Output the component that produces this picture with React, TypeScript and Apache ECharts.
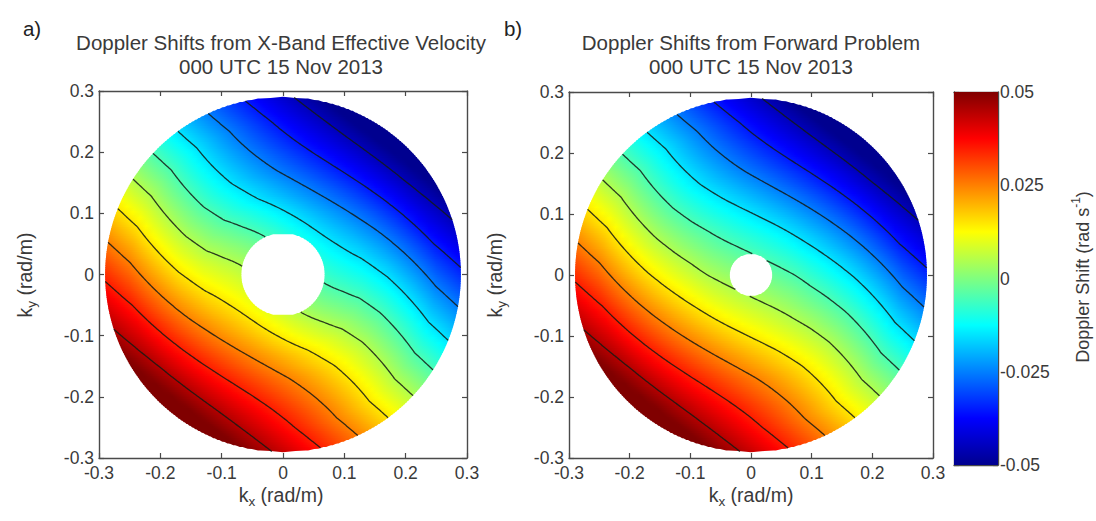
import React, { useEffect, useRef } from "react";
import * as echarts from "echarts";

// ---------- data ----------
const AXIS_MIN = -0.3;
const AXIS_MAX = 0.3;
const AXIS_STEP = 0.1;
const CBAR_MIN = -0.05;
const CBAR_MAX = 0.05;
const CBAR_STEP = 0.025;
const CONTOUR_LEVELS = [-0.045, -0.035, -0.025, -0.015, -0.005, 0.005, 0.015, 0.025, 0.035, 0.045];
const DISK_RADIUS = 0.29;
const HOLE_RADIUS_A = 0.068;
const HOLE_RADIUS_B = 0.035;
// effective current (speed m/s, direction deg) versus wavenumber magnitude (rad/m)
const K_NODES = [0.0, 0.07, 0.1, 0.13, 0.17, 0.21, 0.25, 0.3];
const SPEED_A = [0.16, 0.164, 0.168, 0.173, 0.178, 0.182, 0.186, 0.188];
const DIR_A = [232, 232, 237, 240, 239, 236, 233, 232];
const SPEED_B = [0.15, 0.158, 0.166, 0.172, 0.178, 0.182, 0.186, 0.188];
const DIR_B = [245, 244, 242, 241, 239, 236, 233, 232];
const JET_POS = [0, 0.125, 0.375, 0.625, 0.875, 1];
const JET_COLORS = ["#00008f", "#0000ff", "#00ffff", "#ffff00", "#ff0000", "#800000"];
const TITLE_A = ["Doppler Shifts from X-Band Effective Velocity", "000 UTC 15 Nov 2013"];
const TITLE_B = ["Doppler Shifts from Forward Problem", "000 UTC 15 Nov 2013"];
const CBAR_NAME = "Doppler Shift (rad s";

// ---------- helpers ----------
const FONT = '"Liberation Sans", Arial, Helvetica, sans-serif';
const TXT = "#3a3a3a";
const AX = "#4a4a4a";
const TICK_FONT = 17.5;

function hexRgb(h: string) {
  return [parseInt(h.slice(1, 3), 16), parseInt(h.slice(3, 5), 16), parseInt(h.slice(5, 7), 16)];
}
const JET_RGB = JET_COLORS.map(hexRgb);

function jet(v: number) {
  let t = (v - CBAR_MIN) / (CBAR_MAX - CBAR_MIN);
  t = Math.max(0, Math.min(1, t));
  let i = 0;
  while (i < JET_POS.length - 2 && t > JET_POS[i + 1]) i++;
  const f = (t - JET_POS[i]) / (JET_POS[i + 1] - JET_POS[i]);
  const a = JET_RGB[i], b = JET_RGB[i + 1];
  const c = a.map((x, k) => Math.round(x + (b[k] - x) * f));
  return `rgb(${c[0]},${c[1]},${c[2]})`;
}

function profile(vals: number[], k: number) {
  if (k <= K_NODES[0]) return vals[0];
  for (let i = 0; i < K_NODES.length - 1; i++) {
    if (k <= K_NODES[i + 1]) {
      const f = (k - K_NODES[i]) / (K_NODES[i + 1] - K_NODES[i]);
      return vals[i] + (vals[i + 1] - vals[i]) * f;
    }
  }
  return vals[vals.length - 1];
}

function makeField(speed: number[], dir: number[]) {
  return (kx: number, ky: number) => {
    const k = Math.hypot(kx, ky);
    const s = profile(speed, k);
    const th = (profile(dir, k) * Math.PI) / 180;
    return s * (kx * Math.cos(th) + ky * Math.sin(th));
  };
}

type Seg = { pts: number[][]; stops: { offset: number; color: string }[]; xmin: number; xmax: number; ymin: number; ymax: number };

function buildFill(field: (x: number, y: number) => number, hole: number): Seg[] {
  const NR = 200;
  const NS = 40;
  const dy = (2 * DISK_RADIUS) / NR;
  const chord = (r: number, y: number) => (Math.abs(y) < r ? Math.sqrt(r * r - y * y) : 0);
  const out: Seg[] = [];
  const make = (pts: number[][], yc: number) => {
    const xs = pts.map((p) => p[0]);
    const xmin = Math.min(...xs), xmax = Math.max(...xs);
    const stops = [];
    for (let s = 0; s <= NS; s++) {
      const x = xmin + ((xmax - xmin) * s) / NS;
      stops.push({ offset: s / NS, color: jet(field(x, yc)) });
    }
    out.push({ pts, stops, xmin, xmax, ymin: pts[0][1], ymax: pts[2][1] });
  };
  for (let j = 0; j < NR; j++) {
    const y0 = -DISK_RADIUS + j * dy;
    const y1 = y0 + dy;
    const yc = (y0 + y1) / 2;
    const o0 = chord(DISK_RADIUS, y0), o1 = chord(DISK_RADIUS, y1);
    if (Math.abs(yc) < hole) {
      const i0 = chord(hole, y0), i1 = chord(hole, y1);
      make([[-o0, y0], [-i0, y0], [-i1, y1], [-o1, y1]], yc);
      make([[i0, y0], [o0, y0], [o1, y1], [i1, y1]], yc);
    } else {
      make([[-o0, y0], [o0, y0], [o1, y1], [-o1, y1]], yc);
    }
  }
  return out;
}

function buildContours(field: (x: number, y: number) => number, hole: number) {
  const step = 0.0025;
  const n = Math.round((AXIS_MAX - AXIS_MIN) / step);
  const xs: number[] = [];
  for (let i = 0; i <= n; i++) xs.push(AXIS_MIN + i * step);
  const V = new Float64Array((n + 1) * (n + 1));
  for (let j = 0; j <= n; j++) for (let i = 0; i <= n; i++) V[j * (n + 1) + i] = field(xs[i], xs[j]);
  const val = (i: number, j: number) => V[j * (n + 1) + i];
  const inside = (p: number[]) => {
    const r = Math.hypot(p[0], p[1]);
    return r <= DISK_RADIUS && r >= hole;
  };
  let uid = 0;
  const lines: number[][][] = [];
  for (const lv of CONTOUR_LEVELS) {
    const segs: { ka: string; kb: string; pa: number[]; pb: number[] }[] = [];
    const edge = (e: string, i: number, j: number): [string, number[]] => {
      if (e === "B" || e === "T") {
        const jj = e === "B" ? j : j + 1;
        const a = val(i, jj), b = val(i + 1, jj);
        return [`h${i}_${jj}`, [xs[i] + (step * (lv - a)) / (b - a), xs[jj]]];
      }
      const ii = e === "L" ? i : i + 1;
      const a = val(ii, j), b = val(ii, j + 1);
      return [`v${ii}_${j}`, [xs[ii], xs[j] + (step * (lv - a)) / (b - a)]];
    };
    for (let j = 0; j < n; j++) {
      for (let i = 0; i < n; i++) {
        const v00 = val(i, j), v10 = val(i + 1, j), v11 = val(i + 1, j + 1), v01 = val(i, j + 1);
        const c = (v00 > lv ? 1 : 0) | (v10 > lv ? 2 : 0) | (v11 > lv ? 4 : 0) | (v01 > lv ? 8 : 0);
        if (c === 0 || c === 15) continue;
        const ctr = (v00 + v10 + v11 + v01) / 4 > lv;
        let pairs: string[][] = [];
        switch (c) {
          case 1: case 14: pairs = [["L", "B"]]; break;
          case 2: case 13: pairs = [["B", "R"]]; break;
          case 3: case 12: pairs = [["L", "R"]]; break;
          case 4: case 11: pairs = [["R", "T"]]; break;
          case 6: case 9: pairs = [["B", "T"]]; break;
          case 7: case 8: pairs = [["L", "T"]]; break;
          case 5: pairs = ctr ? [["B", "R"], ["T", "L"]] : [["L", "B"], ["R", "T"]]; break;
          case 10: pairs = ctr ? [["L", "B"], ["R", "T"]] : [["B", "R"], ["T", "L"]]; break;
        }
        for (const [ea, eb] of pairs) {
          let [ka, pa] = edge(ea, i, j);
          let [kb, pb] = edge(eb, i, j);
          const ia = inside(pa), ib = inside(pb);
          if (!ia && !ib) continue;
          if (!ia || !ib) {
            let pin = ia ? pa : pb, pout = ia ? pb : pa;
            for (let it = 0; it < 24; it++) {
              const m = [(pin[0] + pout[0]) / 2, (pin[1] + pout[1]) / 2];
              if (inside(m)) pin = m; else pout = m;
            }
            if (ia) { pb = pin; kb = `c${uid++}`; } else { pa = pin; ka = `c${uid++}`; }
          }
          segs.push({ ka, kb, pa, pb });
        }
      }
    }
    const adj = new Map<string, number[]>();
    segs.forEach((s, id) => {
      for (const k of [s.ka, s.kb]) {
        if (!adj.has(k)) adj.set(k, []);
        adj.get(k)!.push(id);
      }
    });
    const used = new Uint8Array(segs.length);
    const deg1 = (k: string) => adj.get(k)!.length === 1;
    const order = segs.map((_, id) => id).sort((a, b) => {
      const da = deg1(segs[a].ka) || deg1(segs[a].kb) ? 0 : 1;
      const db = deg1(segs[b].ka) || deg1(segs[b].kb) ? 0 : 1;
      return da - db;
    });
    for (const id of order) {
      if (used[id]) continue;
      const s0 = segs[id];
      let curKey = deg1(s0.kb) && !deg1(s0.ka) ? s0.kb : s0.ka;
      const pts: number[][] = [curKey === s0.ka ? s0.pa : s0.pb];
      let cur = id;
      while (true) {
        used[cur] = 1;
        const sg = segs[cur];
        const fwd = sg.ka === curKey;
        const nk = fwd ? sg.kb : sg.ka;
        pts.push(fwd ? sg.pb : sg.pa);
        const cand = adj.get(nk)!.find((x) => !used[x]);
        if (cand === undefined) break;
        cur = cand;
        curKey = nk;
      }
      lines.push(pts);
    }
  }
  return lines;
}

function fmt1(v: number) {
  const r = Math.round(v * 10) / 10;
  return r === 0 ? "0" : String(r);
}
function fmt3(v: number) {
  const r = Math.round(v * 1000) / 1000;
  return r === 0 ? "0" : String(r);
}

function xAxisDef(grid: number, pos: string, labels: boolean, min = AXIS_MIN, max = AXIS_MAX, interval = AXIS_STEP, showTicks = true) {
  return {
    type: "value", gridIndex: grid, position: pos, min, max, interval,
    axisLine: { show: true, onZero: false, lineStyle: { color: AX, width: 1.4 } },
    axisTick: { show: showTicks, inside: true, length: 5, lineStyle: { color: AX, width: 1.2 } },
    axisLabel: { show: labels, margin: 6, color: TXT, fontSize: TICK_FONT, fontFamily: FONT, formatter: fmt1 },
    splitLine: { show: false },
  };
}
function yAxisDef(grid: number, pos: string, labels: boolean, min = AXIS_MIN, max = AXIS_MAX, interval = AXIS_STEP, formatter = fmt1, margin = 5) {
  return {
    type: "value", gridIndex: grid, position: pos, min, max, interval,
    axisLine: { show: true, onZero: false, lineStyle: { color: AX, width: 1.4 } },
    axisTick: { show: true, inside: true, length: 5, lineStyle: { color: AX, width: 1.2 } },
    axisLabel: { show: labels, margin, color: TXT, fontSize: TICK_FONT, fontFamily: FONT, formatter },
    splitLine: { show: false },
  };
}

function fillSeries(rows: Seg[], xi: number, yi: number) {
  return {
    type: "custom", coordinateSystem: "cartesian2d", xAxisIndex: xi, yAxisIndex: yi, silent: true, z: 1, clip: false,
    data: rows.map((r) => [r.xmin, r.ymin, r.xmax, r.ymax]),
    encode: { x: [0, 2], y: [1, 3] },
    renderItem: (params: any, api: any) => {
      const seg = rows[params.dataIndex];
      const pts = seg.pts.map((p, i) => {
        const c = api.coord(p);
        return [c[0], c[1] + (i < 2 ? 0.45 : -0.45)];
      });
      return {
        type: "polygon",
        shape: { points: pts },
        style: { fill: new echarts.graphic.LinearGradient(0, 0, 1, 0, seg.stops), stroke: null },
      };
    },
  };
}

function contourSeries(lines: number[][][], xi: number, yi: number) {
  return {
    type: "lines", coordinateSystem: "cartesian2d", xAxisIndex: xi, yAxisIndex: yi, polyline: true, silent: true, z: 3,
    data: lines.map((l) => ({ coords: l })),
    lineStyle: { color: "#141a14", width: 1.3, opacity: 0.85 },
  };
}

function text(x: number, y: number, t: string, size = 20.5, extra: any = {}) {
  return {
    type: "text", x, y, silent: true, ...extra,
    style: { text: t, fontSize: size, fontFamily: FONT, fill: TXT, align: "center", verticalAlign: "middle", ...(extra.style || {}) },
  };
}

function subLabel(x: number, y: number, sub: string, rotation = 0) {
  return {
    type: "text", x, y, rotation, silent: true,
    style: {
      text: `{m|k}{s|${sub}}{m| (rad/m)}`,
      align: "center", verticalAlign: "middle", fontFamily: FONT, fontSize: 19.5, fill: TXT,
      rich: {
        m: { fontSize: 19.5, fontFamily: FONT, fill: TXT, lineHeight: 26 },
        s: { fontSize: 13.5, fontFamily: FONT, fill: TXT, lineHeight: 15, verticalAlign: "bottom" },
      },
    },
  };
}

function buildOption() {
  const fA = makeField(SPEED_A, DIR_A);
  const fB = makeField(SPEED_B, DIR_B);
  const rowsA = buildFill(fA, HOLE_RADIUS_A);
  const rowsB = buildFill(fB, HOLE_RADIUS_B);
  const linesA = buildContours(fA, HOLE_RADIUS_A);
  const linesB = buildContours(fB, HOLE_RADIUS_B);
  const jetStops = JET_POS.map((p, i) => ({ offset: 1 - p, color: JET_COLORS[i] })).reverse();

  return {
    animation: false,
    backgroundColor: "#ffffff",
    grid: [
      { left: 99, top: 91, width: 368, height: 367 },
      { left: 569, top: 92, width: 364, height: 366 },
      { left: 954, top: 92, width: 44, height: 373 },
    ],
    xAxis: [
      xAxisDef(0, "bottom", true),
      xAxisDef(0, "top", false),
      xAxisDef(1, "bottom", true),
      xAxisDef(1, "top", false),
      xAxisDef(2, "bottom", false, 0, 1, 1, false),
      xAxisDef(2, "top", false, 0, 1, 1, false),
    ],
    yAxis: [
      yAxisDef(0, "left", true),
      yAxisDef(0, "right", false),
      yAxisDef(1, "left", true),
      yAxisDef(1, "right", false),
      yAxisDef(2, "left", false, CBAR_MIN, CBAR_MAX, CBAR_STEP, fmt3),
      yAxisDef(2, "right", true, CBAR_MIN, CBAR_MAX, CBAR_STEP, fmt3, 2),
    ],
    series: [
      fillSeries(rowsA, 0, 0),
      contourSeries(linesA, 0, 0),
      fillSeries(rowsB, 2, 2),
      contourSeries(linesB, 2, 2),
      {
        type: "custom", coordinateSystem: "cartesian2d", xAxisIndex: 4, yAxisIndex: 5, silent: true, z: 1,
        data: [[0, CBAR_MIN, 1, CBAR_MAX]],
        encode: { x: [0, 2], y: [1, 3] },
        renderItem: (_p: any, api: any) => {
          const a = api.coord([api.value(0), api.value(3)]);
          const b = api.coord([api.value(2), api.value(1)]);
          return {
            type: "rect",
            shape: { x: a[0], y: a[1], width: b[0] - a[0], height: b[1] - a[1] },
            style: { fill: new echarts.graphic.LinearGradient(0, 0, 0, 1, jetStops) },
          };
        },
      },
    ],
    graphic: [
      text(32, 28, "a)", 20.5, { style: { fill: "#222" } }),
      text(513, 28, "b)", 20.5, { style: { fill: "#222" } }),
      text(281, 42, TITLE_A[0]),
      text(281, 66, TITLE_A[1]),
      text(751, 42, TITLE_B[0]),
      text(751, 66, TITLE_B[1]),
      subLabel(281, 495, "x"),
      subLabel(751, 495, "x"),
      subLabel(25, 275, "y", Math.PI / 2),
      subLabel(495, 275, "y", Math.PI / 2),
      {
        type: "text", x: 1083, y: 277, rotation: Math.PI / 2, silent: true,
        style: {
          text: `{m|${CBAR_NAME}}{p|-1}{m|)}`,
          align: "center", verticalAlign: "middle", fontFamily: FONT, fontSize: 18, fill: TXT,
          rich: {
            m: { fontSize: 18, fontFamily: FONT, fill: TXT, lineHeight: 26 },
            p: { fontSize: 12, fontFamily: FONT, fill: TXT, lineHeight: 14, verticalAlign: "top" },
          },
        },
      },
    ],
  };
}

export default function App() {
  const ref = useRef<HTMLDivElement>(null);
  useEffect(() => {
    if (!ref.current) return;
    const chart = echarts.init(ref.current, undefined, { renderer: "svg" });
    chart.setOption(buildOption() as any);
    return () => chart.dispose();
  }, []);
  return (
    <div
      ref={ref}
      style={{ position: "fixed", left: 0, top: 0, width: 1096, height: 521, background: "#fff" }}
    />
  );
}
